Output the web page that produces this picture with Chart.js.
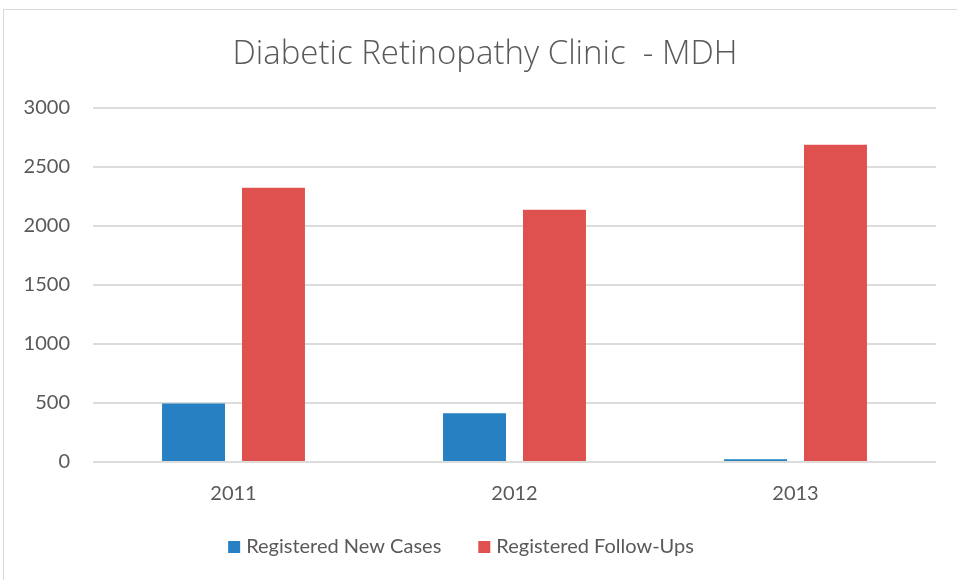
<!DOCTYPE html>
<html>
<head>
<meta charset="utf-8">
<title>Diabetic Retinopathy Clinic - MDH</title>
<script src="https://cdn.jsdelivr.net/npm/chart.js@4.4.1/dist/chart.umd.min.js"></script>
<style>
    html, body { margin: 0; padding: 0; background: #fff; overflow: hidden; }
    #frame { position: absolute; left: 3px; top: 9px; width: 980px; height: 600px; border-left: 1px solid #d9d9d9; border-top: 1px solid #d9d9d9; }
    #wrap { position: absolute; left: 0; top: 0; width: 957px; height: 580px; }
</style>
</head>
<body>
<div id="frame"></div>
<div id="wrap"><canvas id="clinicChart"></canvas></div>
<script>
// Chart data
const years = ['2011', '2012', '2013'];
const newCases = [495, 413, 23];
const followUps = [2322, 2135, 2686];
const seriesNames = ['Registered New Cases', 'Registered Follow-Ups'];
const yTickMin = 0;
const yTickMax = 3000;
const yTickStep = 500;

const textColor = '#595959';
const gridColor = '#dcdcdc';

// Excel style legend under the plot (small square, tight gap) + title nudge
const excelBits = {
    id: 'excelBits',
    afterLayout(chart, args, opts) {
        if (chart.titleBlock) {
            chart.titleBlock.left += opts.titleShift;
            chart.titleBlock.right += opts.titleShift;
        }
    },
    afterDraw(chart, args, opts) {
        const ctx = chart.ctx;
        ctx.save();
        ctx.font = opts.font;
        ctx.textBaseline = 'middle';
        ctx.textAlign = 'left';
        const items = chart.data.datasets.map(ds => ({
            text: ds.label,
            color: ds.backgroundColor,
            w: ctx.measureText(ds.label).width
        }));
        const total = items.reduce((s, it) => s + opts.box + opts.gap + it.w, 0) + opts.spacing * (items.length - 1);
        let x = opts.centerX - total / 2;
        items.forEach(it => {
            ctx.fillStyle = it.color;
            ctx.fillRect(x, opts.y - opts.box / 2, opts.box, opts.box);
            x += opts.box + opts.gap;
            ctx.fillStyle = opts.color;
            ctx.fillText(it.text, x, opts.y);
            x += it.w + opts.spacing;
        });
        ctx.restore();
    }
};

const ctx = document.getElementById('clinicChart');

new Chart(ctx, {
    type: 'bar',
    data: {
        labels: years,
        datasets: [{
            label: seriesNames[0],
            data: newCases,
            backgroundColor: '#2680c2'
        }, {
            label: seriesNames[1],
            data: followUps,
            backgroundColor: '#df514e'
        }]
    },
    plugins: [excelBits],
    options: {
        responsive: true,
        maintainAspectRatio: false,
        animation: false,
        categoryPercentage: 0.569,
        barPercentage: 0.7875,
        layout: {
            padding: { left: 10, right: 21, top: 10, bottom: 58 }
        },
        plugins: {
            legend: { display: false },
            tooltip: { enabled: false },
            title: {
                display: true,
                text: 'Diabetic Retinopathy Clinic  - MDH',
                color: textColor,
                font: { family: 'Open Sans', size: 33, weight: '300', lineHeight: 1.2 },
                padding: { top: 25, bottom: 33 }
            },
            excelBits: {
                titleShift: 12,
                centerX: 461,
                y: 547,
                box: 12,
                gap: 6,
                spacing: 37,
                font: '20px Lato',
                color: textColor
            }
        },
        scales: {
            x: {
                grid: { display: false },
                border: { display: false },
                ticks: {
                    color: textColor,
                    font: { family: 'Lato', size: 20 },
                    padding: 12
                },
                afterFit(scale) { scale.height = 60; }
            },
            y: {
                min: yTickMin,
                max: yTickMax,
                grid: { color: gridColor, lineWidth: 2, drawTicks: false },
                border: { display: false },
                ticks: {
                    stepSize: yTickStep,
                    color: textColor,
                    font: { family: 'Lato', size: 20 },
                    padding: 23,
                    callback: value => String(value)
                },
                afterFit(scale) { scale.width = 83; }
            }
        }
    }
});
</script>
</body>
</html>
